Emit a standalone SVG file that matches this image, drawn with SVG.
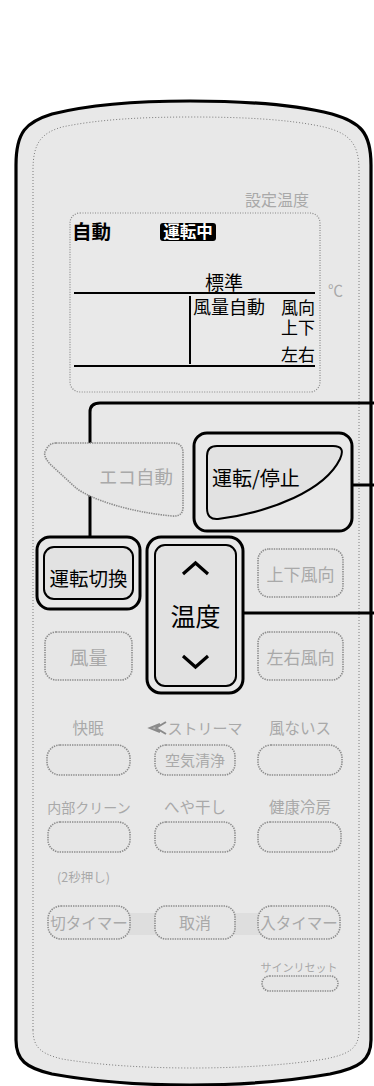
<svg xmlns="http://www.w3.org/2000/svg" width="374" height="1086" viewBox="0 0 374 1086">
<style>
.jp{font-family:"Noto Sans CJK JP","Noto Sans",sans-serif;}
.jt{font-family:"Liberation Sans","Noto Sans CJK JP",sans-serif;}
.blk{fill:#000;}
.gry{fill:#a9a9a9;}
.gbtn{fill:#e6e6e6;stroke:#8c8c8c;stroke-width:1.6;stroke-dasharray:1.4 1;}
.hl{fill:none;stroke:#000;stroke-width:3;}
.inner{fill:#e2e2e2;stroke:#000;stroke-width:2;}
.lead{fill:none;stroke:#000;stroke-width:3;}
</style>
<rect width="374" height="1086" fill="#fff"/>
<g id="body">
<path d="M16,1040 L16,165 C16,132 26,122 52,114 C92,104 140,101 190,101 C240,101 292,104 332,114 C360,122 371,132 371,165 L371,1040 C371,1060 360,1068 330,1074 C290,1081 240,1085 190,1085 C140,1085 90,1081 52,1074 C26,1068 16,1060 16,1040 Z" fill="#e8e8e8" stroke="#000" stroke-width="3.2"/>
<path d="M33,1030 L33,170 C33,142 42,133 62,127 C100,119 145,117 192,117 C240,117 288,119 324,127 C348,133 359,142 359,170 L359,1030 C359,1048 350,1054 325,1059 C288,1065 240,1068 192,1068 C145,1068 98,1065 62,1059 C42,1054 33,1048 33,1030 Z" fill="none" stroke="#7a7a7a" stroke-width="1" stroke-dasharray="1 2"/>
</g>
<g id="lcd">
<text class="jp gry" x="245" y="206" font-size="16">設定温度</text>
<rect x="70" y="213" width="250" height="179" rx="10" fill="#e9e9e9" stroke="#888" stroke-width="1.2" stroke-dasharray="1 1.5"/>
<text class="jp blk" x="72" y="239" font-size="19.5" font-weight="bold">自動</text>
<rect x="160" y="223" width="56" height="18" rx="3" fill="#000"/>
<text class="jp" x="188" y="238" font-size="16.5" font-weight="bold" fill="#fff" text-anchor="middle">運転中</text>
<text class="jp blk" x="205" y="290" font-size="19">標準</text>
<text class="jp gry" x="328" y="296" font-size="15">℃</text>
<line x1="74" y1="293" x2="315" y2="293" stroke="#000" stroke-width="2"/>
<line x1="74" y1="366" x2="315" y2="366" stroke="#000" stroke-width="2"/>
<line x1="190" y1="296" x2="190" y2="364" stroke="#000" stroke-width="2"/>
<text class="jp blk" x="193" y="314" font-size="18">風量自動</text>
<text class="jt blk" x="315" y="314" font-size="17" text-anchor="end">風向</text>
<text class="jt blk" x="315" y="333.5" font-size="17" text-anchor="end">上下</text>
<text class="jt blk" x="315" y="361" font-size="17" text-anchor="end">左右</text>
</g>
<g id="connectors">
<path class="lead" d="M90,537 L90,412 Q90,403 100,403 L374,403"/>
<line class="lead" x1="352" y1="485" x2="374" y2="485"/>
<line class="lead" x1="243" y1="613" x2="374" y2="613"/>
</g>
<g id="eco">
<path d="M56,443 L173,443 Q183,443 183,453 L183,507 Q183,517 172,516 C130,512 92,500 76,488 L50,464 Q42,455 46,450 Q49,443 56,443 Z" class="gbtn" stroke-width="2"/>
<text class="jp gry" x="136" y="484" font-size="18.5" text-anchor="middle">エコ自動</text>
</g>
<g id="unten-teishi">
<rect class="hl" x="194" y="433" width="158" height="98" rx="13"/>
<path class="inner" d="M217,446 L333,446 Q346,446 340,459 C325,490 272,512 218,519 Q207,520 207,508 L207,456 Q207,446 217,446 Z"/>
<text class="jp blk" x="212" y="486" font-size="20">運転/停止</text>
</g>
<g id="unten-kirikae">
<rect class="hl" x="37" y="537" width="103" height="72" rx="13"/>
<rect class="inner" x="44" y="547" width="89" height="52" rx="10"/>
<text class="jp blk" x="88.5" y="586" font-size="19.5" text-anchor="middle">運転切換</text>
</g>
<g id="ondo">
<rect class="hl" x="147" y="537" width="96" height="156" rx="14"/>
<rect class="inner" x="155" y="545" width="81" height="141" rx="10"/>
<polyline points="183,574 195.5,563 208,574" fill="none" stroke="#000" stroke-width="3.2"/>
<text class="jp blk" x="195.5" y="626" font-size="25" text-anchor="middle">温度</text>
<polyline points="183,656 195.5,667 208,656" fill="none" stroke="#000" stroke-width="3.2"/>
</g>
<g id="jouge">
<rect class="gbtn" x="258" y="549" width="85" height="48" rx="11"/>
<text class="jp gry" x="300.5" y="581" font-size="17" text-anchor="middle">上下風向</text>
</g>
<g id="fuuryou">
<rect class="gbtn" x="45" y="632" width="87" height="48" rx="11"/>
<text class="jp gry" x="88.5" y="665" font-size="19" text-anchor="middle">風量</text>
</g>
<g id="sayuu">
<rect class="gbtn" x="258" y="632" width="85" height="48" rx="11"/>
<text class="jp gry" x="300.5" y="664" font-size="17" text-anchor="middle">左右風向</text>
</g>
<g id="row1">
<text class="jp gry" x="88" y="734" font-size="15.5" text-anchor="middle">快眠</text>
<path d="M160,724 L150,728 L160,732 M166,722 L156,728 L166,734" fill="none" stroke="#8a8a8a" stroke-width="2"/>
<text class="jp gry" x="205" y="734" font-size="15" text-anchor="middle">ストリーマ</text>
<text class="jp gry" x="300" y="734" font-size="15.5" text-anchor="middle">風ないス</text>
<rect class="gbtn" x="47" y="745" width="83" height="30" rx="13"/>
<rect class="gbtn" x="155" y="745" width="80" height="30" rx="11"/>
<text class="jp gry" x="195" y="766" font-size="15" text-anchor="middle">空気清浄</text>
<rect class="gbtn" x="258" y="745" width="84" height="30" rx="13"/>
</g>
<g id="row2">
<text class="jp gry" x="89" y="813" font-size="14" text-anchor="middle">内部クリーン</text>
<text class="jp gry" x="195" y="813" font-size="15.5" text-anchor="middle">へや干し</text>
<text class="jp gry" x="300" y="813" font-size="15.5" text-anchor="middle">健康冷房</text>
<rect class="gbtn" x="48" y="822" width="82" height="30" rx="12"/>
<rect class="gbtn" x="155" y="822" width="80" height="30" rx="11"/>
<rect class="gbtn" x="258" y="822" width="83" height="30" rx="12"/>
<text class="jp gry" x="57" y="882" font-size="12.5">(2秒押し)</text>
</g>
<g id="timer">
<rect x="120" y="913" width="150" height="22" fill="#dedede"/>
<rect class="gbtn" x="48" y="906" width="82" height="33" rx="13"/>
<text class="jp gry" x="89" y="929" font-size="15.5" text-anchor="middle">切タイマー</text>
<rect class="gbtn" x="155" y="906" width="80" height="33" rx="11"/>
<text class="jp gry" x="195" y="929" font-size="16" text-anchor="middle">取消</text>
<rect class="gbtn" x="258" y="906" width="82" height="33" rx="13"/>
<text class="jp gry" x="299" y="929" font-size="15.5" text-anchor="middle">入タイマー</text>
</g>
<g id="signreset">
<text class="jp gry" x="299" y="972" font-size="11" text-anchor="middle">サインリセット</text>
<rect class="gbtn" x="262" y="976" width="76" height="15" rx="7.5"/>
</g>
</svg>
